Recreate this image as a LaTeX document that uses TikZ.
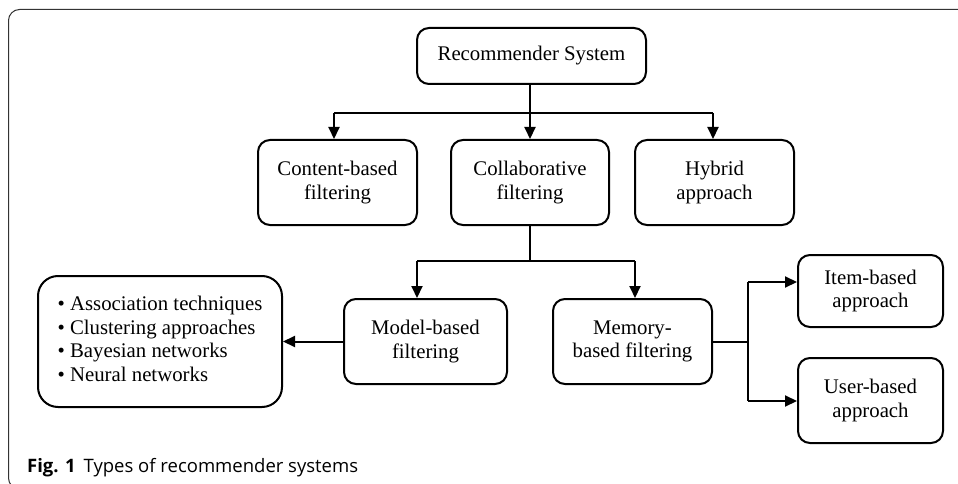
\documentclass[tikz,border=0pt]{standalone}
\usepackage{fontspec}
\setmainfont{Liberation Serif}
\newfontfamily\capfont{Open Sans}
\usetikzlibrary{arrows.meta}
\begin{document}
\begin{tikzpicture}[x=1pt,y=-1pt,
  box/.style={draw, line width=2pt, rounded corners=12pt, align=center,
    font=\fontsize{20.8}{23.5}\selectfont, inner sep=0pt},
  conn/.style={line width=2pt},
  arr/.style={line width=2pt, -{Triangle[length=12pt,width=11pt]}}
]
\useasboundingbox (0,0) rectangle (958,484);
\fill[white] (0,0) rectangle (958,484);
% outer frame
\draw[black!80, line width=1pt, rounded corners=11pt] (8.5,9.5) rectangle (990,489);

% nodes
\node[box, minimum width=229pt, minimum height=56pt] (rs) at (531.5,56) {Recommender System};
\node[box, minimum width=159pt, minimum height=85pt] (cb) at (337.5,182.5) {Content-based\\filtering};
\node[box, minimum width=158pt, minimum height=85pt] (cf) at (530,182.5) {Collaborative\\filtering};
\node[box, minimum width=159pt, minimum height=85pt] (hy) at (714.5,182.5) {Hybrid\\approach};
\node[box, minimum width=163pt, minimum height=85pt] (mb) at (425.5,341.5) {Model-based\\filtering};
\node[box, minimum width=159pt, minimum height=85pt] (mem) at (632.5,341.5) {Memory-\\based filtering};
\node[box, rounded corners=20pt, minimum width=244pt, minimum height=131pt] (list) at (160,341.5)
  {\begin{tabular}{@{}l@{}}\textbullet\ Association techniques\\ \textbullet\ Clustering approaches\\ \textbullet\ Bayesian networks\\ \textbullet\ Neural networks\end{tabular}};
\node[box, minimum width=145pt, minimum height=72pt] (item) at (870.5,291) {Item-based\\approach};
\node[box, minimum width=145pt, minimum height=85pt] (user) at (870.5,400.5) {User-based\\approach};

% junctions
\coordinate (j1) at (530,113);
\coordinate (j1l) at (334,113);
\coordinate (j1r) at (713,113);
\coordinate (j2) at (530,261);
\coordinate (j2l) at (417,261);
\coordinate (j2r) at (635,261);
\coordinate (j3) at (748,341.5);
\coordinate (j3t) at (748,282);
\coordinate (j3b) at (748,401);

% connectors
\draw[conn] (rs.south -| j1) -- (j1);
\draw[conn] (j1l) -- (j1r);
\draw[arr] (j1l) -- (j1l |- cb.north);
\draw[arr] (j1) -- (cf.north);
\draw[arr] (j1r) -- (j1r |- hy.north);

\draw[conn] (cf.south) -- (j2);
\draw[conn] (j2l) -- (j2r);
\draw[arr] (j2l) -- (j2l |- mb.north);
\draw[arr] (j2r) -- (j2r |- mem.north);

\draw[arr] (mb.west) -- (list.east);

\draw[conn] (mem.east) -- (j3);
\draw[conn] (j3t) -- (j3b);
\draw[arr] (j3t) -- (j3t -| item.west);
\draw[arr] (j3b) -- (j3b -| user.west);

% caption
\node[anchor=base west, inner sep=0pt, font=\capfont\fontsize{18.5}{21}\selectfont] (cap) at (27,472)
  {\textbf{Fig. 1}\hspace{8pt}Types of recommender systems};
\end{tikzpicture}
\end{document}
